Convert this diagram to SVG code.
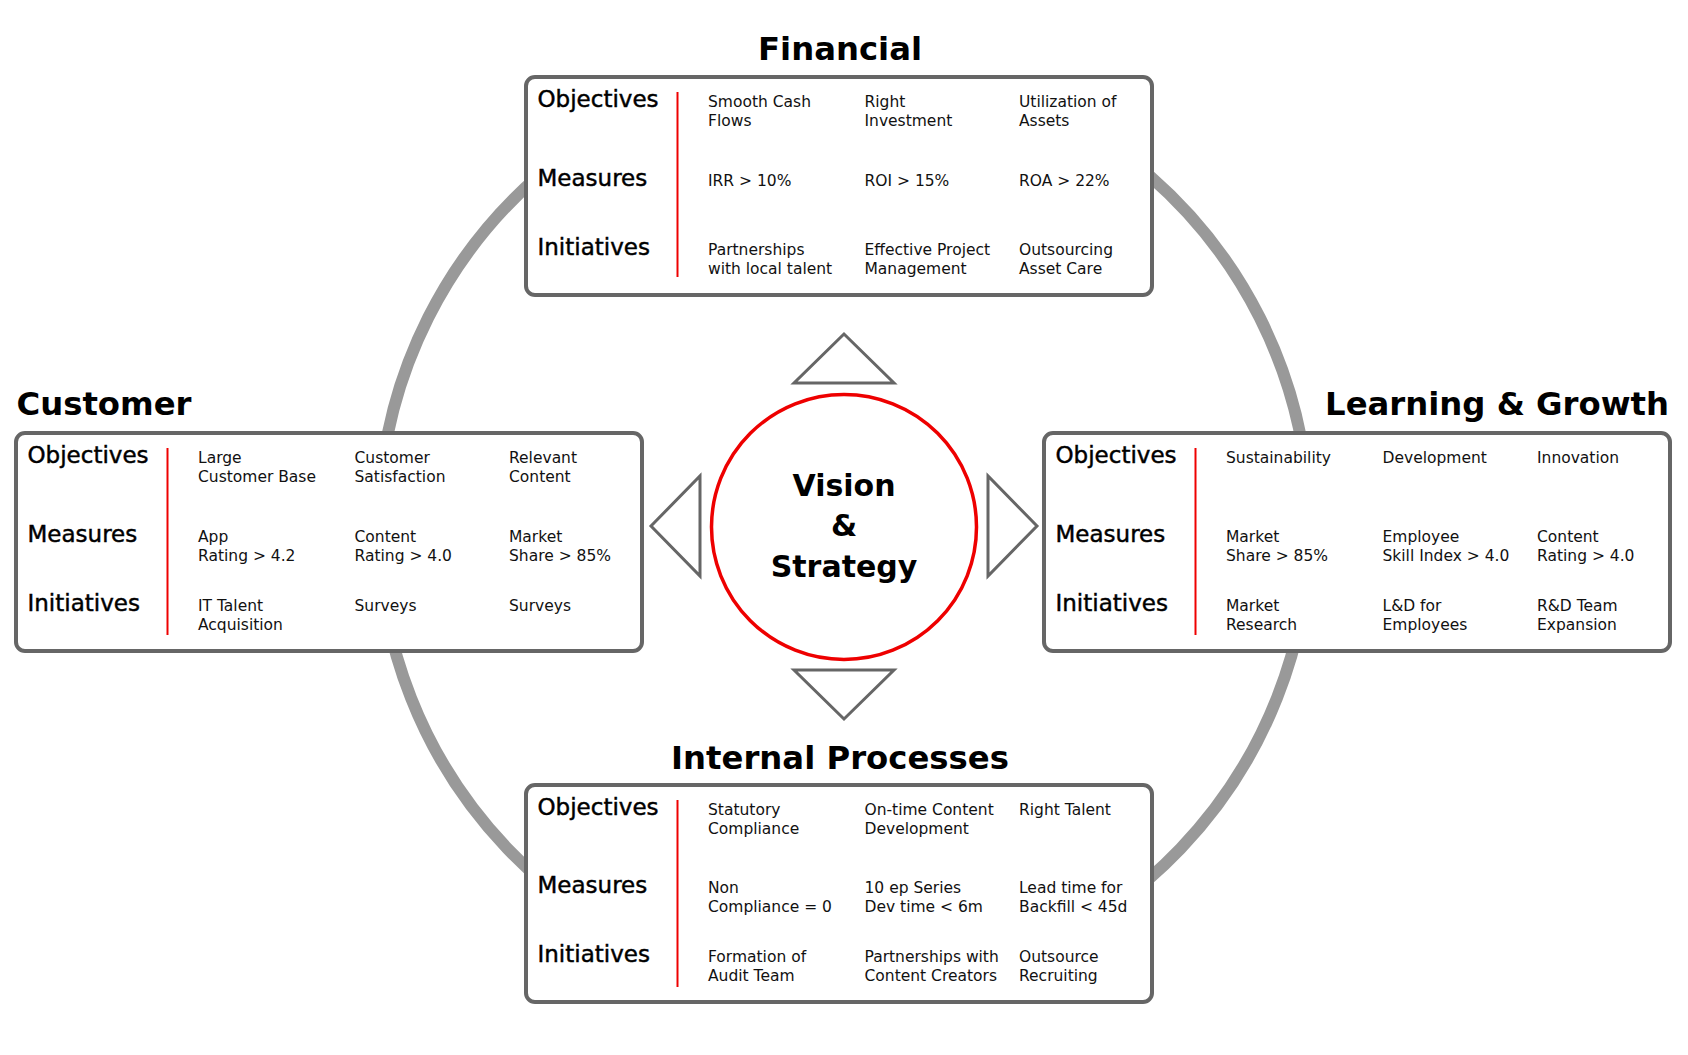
<svg xmlns="http://www.w3.org/2000/svg" width="1688" height="1055" viewBox="0 0 1688 1055">
<style>
.box{fill:#fff;stroke:#666;stroke-width:4}
.red{stroke:#ee0000;stroke-width:2}
.tri{fill:#fff;stroke:#666;stroke-width:3;stroke-linejoin:miter}
.title{font-family:"DejaVu Sans","Liberation Sans",sans-serif;font-weight:bold;font-size:32.3px;fill:#000}
.center{font-family:"DejaVu Sans","Liberation Sans",sans-serif;font-weight:bold;font-size:30px;fill:#000;text-anchor:middle}
.lbl{font-family:"DejaVu Sans","Liberation Sans",sans-serif;font-size:23px;fill:#000;stroke:#000;stroke-width:0.45}
.txt{font-family:"DejaVu Sans","Liberation Sans",sans-serif;font-size:15.5px;fill:#111}
</style>
<rect width="1688" height="1055" fill="#fff"/>
<g id="ring">
<path d="M 538 176.2 A 465.5 465.5 0 1 0 1150 176.2" fill="none" stroke="#999" stroke-width="12"/>
</g>
<g id="connectors">
<polygon class="tri" points="844,334 794,383 894,383"/>
<polygon class="tri" points="844,719 794,670 894,670"/>
<polygon class="tri" points="651,526 700,476 700,576"/>
<polygon class="tri" points="1037,526 988,476 988,576"/>
</g>
<g id="vision">
<circle cx="844" cy="527" r="132.5" fill="#fff" stroke="#ee0000" stroke-width="3.5"/>
<text class="center" x="844" y="495.5">Vision</text>
<text class="center" x="844" y="536">&amp;</text>
<text class="center" x="844" y="576.5">Strategy</text>
</g>
<g id="financial">
<text class="title" x="840" y="60" text-anchor="middle">Financial</text>
<rect class="box" x="526" y="77" width="626" height="218" rx="9"/>
<line class="red" x1="677.5" y1="92" x2="677.5" y2="277"/>
<text class="lbl" x="537.5" y="107">Objectives</text>
<text class="lbl" x="537.5" y="186">Measures</text>
<text class="lbl" x="537.5" y="255">Initiatives</text>
<text class="txt" x="708" y="107">Smooth Cash</text>
<text class="txt" x="708" y="125.5">Flows</text>
<text class="txt" x="864.5" y="107">Right</text>
<text class="txt" x="864.5" y="125.5">Investment</text>
<text class="txt" x="1019" y="107">Utilization of</text>
<text class="txt" x="1019" y="125.5">Assets</text>
<text class="txt" x="708" y="186">IRR &gt; 10%</text>
<text class="txt" x="864.5" y="186">ROI &gt; 15%</text>
<text class="txt" x="1019" y="186">ROA &gt; 22%</text>
<text class="txt" x="708" y="255">Partnerships</text>
<text class="txt" x="708" y="273.5">with local talent</text>
<text class="txt" x="864.5" y="255">Effective Project</text>
<text class="txt" x="864.5" y="273.5">Management</text>
<text class="txt" x="1019" y="255">Outsourcing</text>
<text class="txt" x="1019" y="273.5">Asset Care</text>
</g>
<g id="customer">
<text class="title" x="16.5" y="415">Customer</text>
<rect class="box" x="16" y="433" width="626" height="218" rx="9"/>
<line class="red" x1="167.5" y1="448" x2="167.5" y2="635"/>
<text class="lbl" x="27.5" y="463">Objectives</text>
<text class="lbl" x="27.5" y="542">Measures</text>
<text class="lbl" x="27.5" y="611">Initiatives</text>
<text class="txt" x="198" y="463">Large</text>
<text class="txt" x="198" y="481.5">Customer Base</text>
<text class="txt" x="354.5" y="463">Customer</text>
<text class="txt" x="354.5" y="481.5">Satisfaction</text>
<text class="txt" x="509" y="463">Relevant</text>
<text class="txt" x="509" y="481.5">Content</text>
<text class="txt" x="198" y="542">App</text>
<text class="txt" x="198" y="560.5">Rating &gt; 4.2</text>
<text class="txt" x="354.5" y="542">Content</text>
<text class="txt" x="354.5" y="560.5">Rating &gt; 4.0</text>
<text class="txt" x="509" y="542">Market</text>
<text class="txt" x="509" y="560.5">Share &gt; 85%</text>
<text class="txt" x="198" y="611">IT Talent</text>
<text class="txt" x="198" y="629.5">Acquisition</text>
<text class="txt" x="354.5" y="611">Surveys</text>
<text class="txt" x="509" y="611">Surveys</text>
</g>
<g id="learning">
<text class="title" x="1669" y="415" text-anchor="end">Learning &amp; Growth</text>
<rect class="box" x="1044" y="433" width="626" height="218" rx="9"/>
<line class="red" x1="1195.5" y1="448" x2="1195.5" y2="635"/>
<text class="lbl" x="1055.5" y="463">Objectives</text>
<text class="lbl" x="1055.5" y="542">Measures</text>
<text class="lbl" x="1055.5" y="611">Initiatives</text>
<text class="txt" x="1226" y="463">Sustainability</text>
<text class="txt" x="1382.5" y="463">Development</text>
<text class="txt" x="1537" y="463">Innovation</text>
<text class="txt" x="1226" y="542">Market</text>
<text class="txt" x="1226" y="560.5">Share &gt; 85%</text>
<text class="txt" x="1382.5" y="542">Employee</text>
<text class="txt" x="1382.5" y="560.5">Skill Index &gt; 4.0</text>
<text class="txt" x="1537" y="542">Content</text>
<text class="txt" x="1537" y="560.5">Rating &gt; 4.0</text>
<text class="txt" x="1226" y="611">Market</text>
<text class="txt" x="1226" y="629.5">Research</text>
<text class="txt" x="1382.5" y="611">L&amp;D for</text>
<text class="txt" x="1382.5" y="629.5">Employees</text>
<text class="txt" x="1537" y="611">R&amp;D Team</text>
<text class="txt" x="1537" y="629.5">Expansion</text>
</g>
<g id="internal">
<text class="title" x="840" y="768.5" text-anchor="middle">Internal Processes</text>
<rect class="box" x="526" y="785" width="626" height="217" rx="9"/>
<line class="red" x1="677.5" y1="800" x2="677.5" y2="987"/>
<text class="lbl" x="537.5" y="815">Objectives</text>
<text class="lbl" x="537.5" y="893">Measures</text>
<text class="lbl" x="537.5" y="962">Initiatives</text>
<text class="txt" x="708" y="815">Statutory</text>
<text class="txt" x="708" y="833.5">Compliance</text>
<text class="txt" x="864.5" y="815">On-time Content</text>
<text class="txt" x="864.5" y="833.5">Development</text>
<text class="txt" x="1019" y="815">Right Talent</text>
<text class="txt" x="708" y="893">Non</text>
<text class="txt" x="708" y="911.5">Compliance = 0</text>
<text class="txt" x="864.5" y="893">10 ep Series</text>
<text class="txt" x="864.5" y="911.5">Dev time &lt; 6m</text>
<text class="txt" x="1019" y="893">Lead time for</text>
<text class="txt" x="1019" y="911.5">Backfill &lt; 45d</text>
<text class="txt" x="708" y="962">Formation of</text>
<text class="txt" x="708" y="980.5">Audit Team</text>
<text class="txt" x="864.5" y="962">Partnerships with</text>
<text class="txt" x="864.5" y="980.5">Content Creators</text>
<text class="txt" x="1019" y="962">Outsource</text>
<text class="txt" x="1019" y="980.5">Recruiting</text>
</g>
</svg>
